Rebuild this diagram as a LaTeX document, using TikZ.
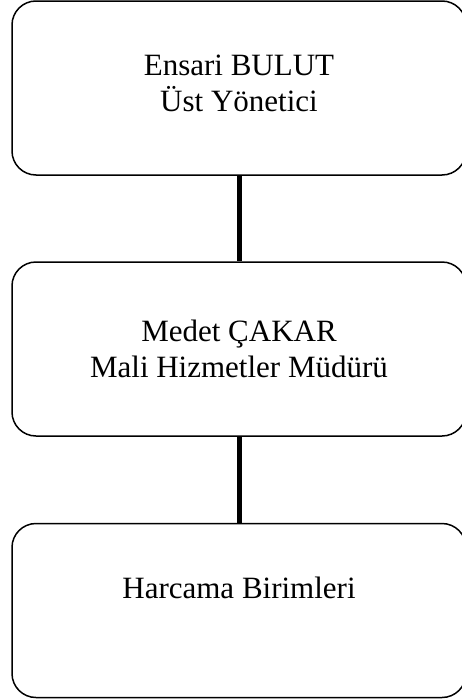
\documentclass[tikz,border=0pt]{standalone}
\usepackage{fontspec}
\setmainfont{Liberation Serif}
\begin{document}
\begin{tikzpicture}[x=1pt,y=-1pt,
  box/.style={draw=black, line width=1.5pt, rounded corners=24pt, minimum width=454pt, align=center, inner sep=0pt,
    font=\fontsize{31}{36}\selectfont},
  link/.style={line width=5pt}]
\useasboundingbox (0,0) rectangle (462,699);
\clip (0,0) rectangle (462,699);
\node[box, minimum height=174pt] (a) at (239,88) {Ensari BULUT\\Üst Yönetici\\[-26pt]\mbox{}};
\node[box, minimum height=174pt] (b) at (239,349) {Medet ÇAKAR\\Mali Hizmetler Müdürü};
\node[box, minimum height=174pt] (c) at (239,610.5) {Harcama Birimleri\\[9pt]};
\draw[link] (a.south) -- (b.north);
\draw[link] (b.south) -- (c.north);
\end{tikzpicture}
\end{document}
